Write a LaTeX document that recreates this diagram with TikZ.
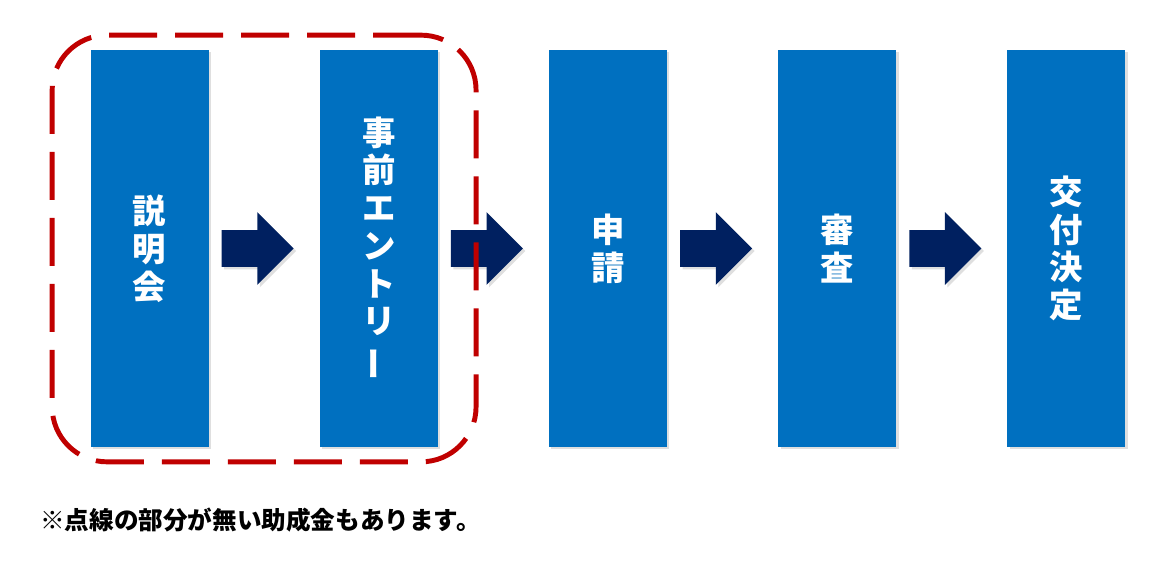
\documentclass[tikz,border=0pt]{standalone}
\usepackage{fontspec}
\usepackage{graphicx}
\newfontfamily\jpfont{Noto Sans CJK JP}
\usetikzlibrary{positioning,shapes.arrows,fit,shadows}
\definecolor{stepblue}{HTML}{0070C0}
\definecolor{arrownavy}{HTML}{002060}
\definecolor{dashred}{HTML}{C00000}
\begin{document}
\begin{tikzpicture}
		[	stepbox/.style={rectangle,draw=none,fill=stepblue,minimum width=2.36cm,minimum height=7.94cm,
			inner sep=0pt,align=center,text=white,font=\jpfont\bfseries\fontsize{19}{21.5}\selectfont,
			drop shadow={shadow xshift=0.05cm,shadow yshift=-0.05cm,opacity=0.25}},
		flow/.style={single arrow,draw=none,fill=arrownavy,minimum height=1.44cm,
			single arrow head extend=0.36cm,single arrow tip angle=90,inner xsep=0pt,inner ysep=0.36cm,
			drop shadow={shadow xshift=0.05cm,shadow yshift=-0.05cm,opacity=0.25}},
		note/.style={draw=none,fill=none,inner sep=0pt,font=\jpfont\bfseries\fontsize{14}{16}\selectfont}
		]
		\useasboundingbox (0,0) rectangle (23.44,11.2);
		\node[stepbox] (setsumei) at (2.99,6.23){説\\明\\会};
		\node[stepbox,right=2.21cm of setsumei] (entry){事\\前\\エ\\ン\\ト\\リ\\\rotatebox[origin=c]{90}{ー}};
		\node[stepbox,right=2.21cm of entry] (shinsei){申\\請};
		\node[stepbox,right=2.21cm of shinsei] (shinsa){審\\査};
		\node[stepbox,right=2.21cm of shinsa] (kettei){交\\付\\決\\定};

		\node[flow,right=0.25cm of setsumei] (a1){};
		\node[flow,right=0.25cm of entry] (a2){};
		\node[flow,right=0.25cm of shinsei] (a3){};
		\node[flow,right=0.25cm of shinsa] (a4){};

		\node[draw=dashred,line width=2.8pt,dash pattern=on 0.96cm off 0.36cm,rounded corners=1.1cm,
			inner xsep=0.76cm,inner ysep=0.29cm,fit=(setsumei)(entry)] (dashed){};

		\node[note,anchor=west] (memo) at (0.8,0.8){※点線の部分が無い助成金もあります。};
	\end{tikzpicture}
\end{document}
